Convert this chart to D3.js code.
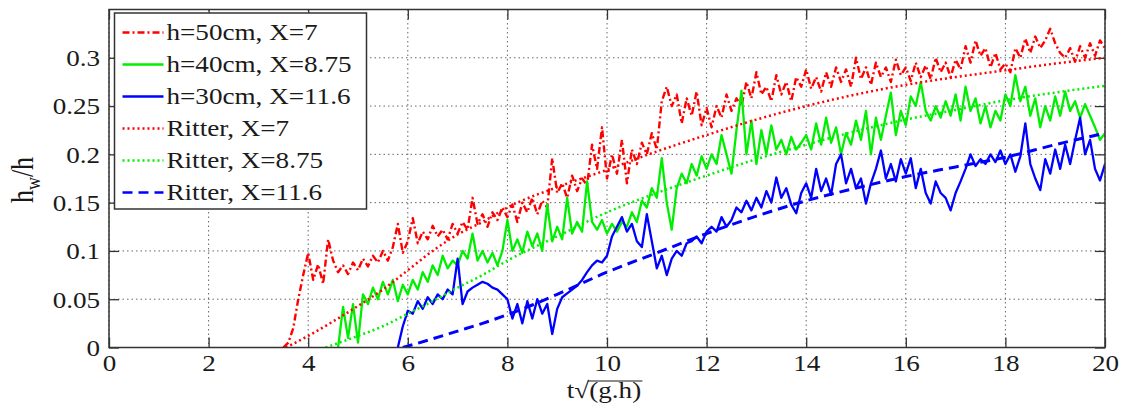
<!DOCTYPE html>
<meta charset="utf-8">
<script src="https://cdn.jsdelivr.net/npm/d3@7"></script>
<style>
  body { margin: 0; background: #fff; }
</style>
<div id="chart"></div>
<script>
// measured water depth at the gauge, h_w/h, sampled every 0.1 of t*sqrt(g.h)
var step = 0.1;

var h50Start = 3.5;
var h50 = [0, 0.005, 0.02, 0.05, 0.075, 0.098, 0.07, 0.086, 0.066, 0.112,
  0.09, 0.078, 0.085, 0.076, 0.088, 0.08, 0.092, 0.084, 0.095, 0.088,
  0.1, 0.09, 0.104, 0.128, 0.098, 0.11, 0.134, 0.108, 0.12, 0.112,
  0.126, 0.115, 0.122, 0.112, 0.128, 0.118, 0.13, 0.122, 0.155, 0.128,
  0.138, 0.125, 0.14, 0.132, 0.145, 0.135, 0.148, 0.13, 0.15, 0.14,
  0.155, 0.138, 0.152, 0.145, 0.196, 0.16, 0.17, 0.155, 0.178, 0.162,
  0.175, 0.168, 0.21, 0.185, 0.228, 0.175, 0.2, 0.18, 0.215, 0.17,
  0.205, 0.19, 0.212, 0.2, 0.222, 0.205, 0.255, 0.27, 0.25, 0.262,
  0.232, 0.258, 0.24, 0.265, 0.23, 0.248, 0.228, 0.25, 0.238, 0.262,
  0.245, 0.258, 0.25, 0.275, 0.258, 0.285, 0.262, 0.27, 0.255, 0.282,
  0.262, 0.275, 0.255, 0.28, 0.27, 0.288, 0.268, 0.28, 0.265, 0.285,
  0.27, 0.29, 0.275, 0.288, 0.27, 0.3, 0.278, 0.29, 0.272, 0.295,
  0.28, 0.29, 0.275, 0.298, 0.282, 0.29, 0.276, 0.295, 0.28, 0.292,
  0.278, 0.3, 0.285, 0.295, 0.28, 0.298, 0.288, 0.312, 0.295, 0.318,
  0.302, 0.31, 0.29, 0.305, 0.288, 0.294, 0.285, 0.31, 0.3, 0.32,
  0.305, 0.322, 0.31, 0.318, 0.33, 0.315, 0.305, 0.3, 0.31, 0.296,
  0.312, 0.3, 0.315, 0.302, 0.318, 0.31];

var h40Start = 4.6;
var h40 = [0, 0.042, 0.01, 0.045, 0.005, 0.055, 0.045, 0.062, 0.05, 0.068,
  0.055, 0.07, 0.048, 0.065, 0.055, 0.07, 0.06, 0.078, 0.068, 0.085,
  0.075, 0.095, 0.082, 0.09, 0.085, 0.1, 0.092, 0.118, 0.09, 0.1,
  0.088, 0.098, 0.085, 0.1, 0.132, 0.1, 0.112, 0.098, 0.12, 0.105,
  0.118, 0.1, 0.148, 0.11, 0.125, 0.112, 0.155, 0.118, 0.13, 0.12,
  0.172, 0.13, 0.122, 0.132, 0.118, 0.128, 0.12, 0.13, 0.125, 0.14,
  0.13, 0.152, 0.145, 0.165, 0.155, 0.196, 0.15, 0.122, 0.165, 0.18,
  0.17, 0.19, 0.178, 0.198, 0.185, 0.2, 0.19, 0.22, 0.2, 0.18,
  0.225, 0.266, 0.2, 0.235, 0.19, 0.225, 0.2, 0.23, 0.205, 0.215,
  0.2, 0.218, 0.205, 0.212, 0.22, 0.205, 0.232, 0.21, 0.238, 0.212,
  0.228, 0.2, 0.222, 0.21, 0.235, 0.215, 0.245, 0.2, 0.238, 0.215,
  0.24, 0.264, 0.22, 0.245, 0.23, 0.26, 0.25, 0.275, 0.245, 0.235,
  0.25, 0.238, 0.255, 0.24, 0.262, 0.235, 0.27, 0.245, 0.258, 0.232,
  0.25, 0.228, 0.245, 0.235, 0.262, 0.25, 0.282, 0.255, 0.27, 0.24,
  0.258, 0.228, 0.25, 0.235, 0.26, 0.24, 0.265, 0.245, 0.255, 0.238,
  0.252, 0.24, 0.228, 0.215, 0.222];

var h30Start = 5.8;
var h30 = [0, 0.022, 0.038, 0.035, 0.048, 0.04, 0.052, 0.045, 0.055, 0.05,
  0.06, 0.055, 0.092, 0.045, 0.058, 0.062, 0.065, 0.068, 0.066, 0.062,
  0.06, 0.055, 0.05, 0.03, 0.045, 0.025, 0.048, 0.03, 0.05, 0.035,
  0.045, 0.014, 0.04, 0.052, 0.056, 0.06, 0.064, 0.07, 0.078, 0.085,
  0.09, 0.088, 0.095, 0.115, 0.125, 0.135, 0.12, 0.128, 0.11, 0.104,
  0.138, 0.11, 0.082, 0.095, 0.075, 0.092, 0.1, 0.095, 0.108, 0.11,
  0.115, 0.108, 0.12, 0.125, 0.12, 0.135, 0.125, 0.132, 0.145, 0.14,
  0.152, 0.142, 0.155, 0.145, 0.162, 0.15, 0.176, 0.155, 0.165, 0.148,
  0.139, 0.16, 0.17, 0.155, 0.185, 0.162, 0.175, 0.158, 0.19, 0.2,
  0.17, 0.185, 0.165, 0.175, 0.149, 0.17, 0.185, 0.204, 0.175, 0.19,
  0.172, 0.195, 0.18, 0.196, 0.165, 0.185, 0.16, 0.149, 0.172, 0.16,
  0.155, 0.142, 0.16, 0.172, 0.185, 0.2, 0.188, 0.195, 0.19, 0.2,
  0.192, 0.204, 0.19, 0.2, 0.182, 0.198, 0.232, 0.19, 0.175, 0.163,
  0.195, 0.18, 0.205, 0.185, 0.21, 0.19, 0.215, 0.238, 0.2, 0.215,
  0.185, 0.173, 0.19];

// Ritter curves: [t*sqrt(g.h), h_w/h]
var ritter7 = [[3.55, 0], [4, 0.012], [4.5, 0.027], [5, 0.043], [5.5, 0.06],
  [6, 0.08], [6.5, 0.1], [7, 0.117], [7.5, 0.13], [8, 0.145], [9, 0.166],
  [10, 0.184], [11, 0.203], [12, 0.22], [13, 0.236], [14, 0.25], [15, 0.262],
  [16, 0.272], [17, 0.28], [18, 0.287], [19, 0.294], [20, 0.3]];
var ritter875 = [[4.35, 0], [5, 0.012], [5.5, 0.022], [6, 0.035], [6.5, 0.048],
  [7, 0.062], [7.5, 0.075], [8, 0.09], [9, 0.115], [10, 0.14], [11, 0.16],
  [12, 0.178], [13, 0.195], [14, 0.21], [15, 0.224], [16, 0.236], [17, 0.246],
  [18, 0.256], [19, 0.264], [20, 0.271]];
var ritter116 = [[5.9, 0], [6.5, 0.009], [7, 0.017], [7.5, 0.025], [8, 0.034],
  [8.5, 0.044], [9, 0.055], [10, 0.078], [11, 0.098], [12, 0.118], [13, 0.136],
  [14, 0.152], [15, 0.165], [16, 0.177], [17, 0.187], [18, 0.197], [19, 0.21],
  [20, 0.222]];

var xTicks = [0, 2, 4, 6, 8, 10, 12, 14, 16, 18, 20];
var yTicks = [0, 0.05, 0.1, 0.15, 0.2, 0.25, 0.3];
var yTickLabels = ["0", "0.05", "0.1", "0.15", "0.2", "0.25", "0.3"];
var legendLabels = ["h=50cm, X=7", "h=40cm, X=8.75", "h=30cm, X=11.6",
  "Ritter, X=7", "Ritter, X=8.75", "Ritter, X=11.6"];

var toPoints = function(start, vals) {
  return vals.map(function(v, i) { return [start + i * step, v]; });
};

var margin = {top: 9.5, right: 19, bottom: 59.5, left: 109},
    width = 1124 - margin.left - margin.right,
    height = 407 - margin.top - margin.bottom;

var font = "'Liberation Serif', 'Times New Roman', serif";
var fs = 23;
var sx = 1.18; // the original figure is a bit stretched sideways
var ink = "#333";
var txt = "#1a1a1a";

var svg = d3.select("#chart").append("svg")
    .attr("width", 1124)
    .attr("height", 407)
  .append("g")
    .attr("transform", "translate(" + margin.left + "," + margin.top + ")");

var x = d3.scaleLinear().domain([0, 20]).range([0, width]);
var y = d3.scaleLinear().domain([0, 0.35]).range([height, 0]);

// dotted grid
svg.append("g").selectAll("line").data(xTicks).enter().append("line")
    .attr("x1", function(d) { return x(d); }).attr("x2", function(d) { return x(d); })
    .attr("y1", 0).attr("y2", height)
    .attr("stroke", "#666").attr("stroke-width", 1).attr("stroke-dasharray", "1.5,3");
svg.append("g").selectAll("line").data(yTicks).enter().append("line")
    .attr("y1", function(d) { return y(d); }).attr("y2", function(d) { return y(d); })
    .attr("x1", 0).attr("x2", width)
    .attr("stroke", "#666").attr("stroke-width", 1).attr("stroke-dasharray", "1.5,3");

// axes with inward ticks on all four sides
svg.append("g").attr("transform", "translate(0," + height + ")")
    .call(d3.axisBottom(x).tickValues(xTicks).tickSize(-10).tickSizeOuter(0).tickPadding(7.5));
svg.append("g")
    .call(d3.axisTop(x).tickValues(xTicks).tickSize(-10).tickSizeOuter(0).tickFormat(""));
var gy = svg.append("g")
    .call(d3.axisLeft(y).tickValues(yTicks).tickSize(-10).tickSizeOuter(0).tickPadding(7.5)
      .tickFormat(function(d, i) { return yTickLabels[i]; }));
svg.append("g").attr("transform", "translate(" + width + ",0)")
    .call(d3.axisRight(y).tickValues(yTicks).tickSize(-10).tickSizeOuter(0).tickFormat(""));

svg.selectAll(".domain").remove();
svg.selectAll(".tick line").attr("stroke", ink).attr("stroke-width", 1.3);
svg.selectAll(".tick text")
    .attr("font-family", font).attr("font-size", fs).attr("fill", txt)
    .attr("transform", "scale(" + sx + ",1)");
gy.selectAll(".tick text").attr("dy", "0.34em");

// plot lines
var line = d3.line()
    .x(function(d) { return x(d[0]); })
    .y(function(d) { return y(d[1]); });
var smooth = d3.line().curve(d3.curveMonotoneX)
    .x(function(d) { return x(d[0]); })
    .y(function(d) { return y(d[1]); });

svg.append("clipPath").attr("id", "clip").append("rect")
    .attr("width", width).attr("height", height);
var plot = svg.append("g").attr("clip-path", "url(#clip)");

var styles = [
  {color: "#ff0000", width: 2.4, dash: "7,3,2,3"},
  {color: "#00ee00", width: 2.3, dash: null},
  {color: "#0000ff", width: 2.3, dash: null},
  {color: "#ff0000", width: 2.5, dash: "2,3"},
  {color: "#00ee00", width: 2.5, dash: "2,3"},
  {color: "#0000ff", width: 3, dash: "10,6"}
];
var series = [
  {pts: toPoints(h50Start, h50), gen: line},
  {pts: toPoints(h40Start, h40), gen: line},
  {pts: toPoints(h30Start, h30), gen: line},
  {pts: ritter7, gen: smooth},
  {pts: ritter875, gen: smooth},
  {pts: ritter116, gen: smooth}
];
series.forEach(function(s, i) {
  plot.append("path")
      .attr("d", s.gen(s.pts))
      .attr("fill", "none")
      .attr("stroke", styles[i].color)
      .attr("stroke-width", styles[i].width)
      .attr("stroke-dasharray", styles[i].dash)
      .attr("stroke-linejoin", "round");
});

// frame
svg.append("rect").attr("width", width).attr("height", height)
    .attr("fill", "none").attr("stroke", ink).attr("stroke-width", 1.5);

// legend
var legend = svg.append("g").attr("transform", "translate(5.5,3.5)");
legend.append("rect").attr("width", 252).attr("height", 196)
    .attr("fill", "#fff").attr("stroke", ink).attr("stroke-width", 1.5);
legendLabels.forEach(function(lab, i) {
  var row = legend.append("g").attr("transform", "translate(0," + (27 + i * 32) + ")");
  row.append("line").attr("x1", 8).attr("x2", 49).attr("y1", -7.5).attr("y2", -7.5)
      .attr("stroke", styles[i].color).attr("stroke-width", Math.min(styles[i].width, 2.5))
      .attr("stroke-dasharray", styles[i].dash);
  row.append("text").attr("x", 52 / sx).attr("transform", "scale(" + sx + ",1)")
      .attr("font-family", font).attr("font-size", fs).attr("fill", txt)
      .text(lab);
});

// x axis title, with the radical bar drawn over (g.h)
var xg = svg.append("g")
    .attr("transform", "translate(" + (width / 2 - 3) + "," + (height + 50) + ") scale(" + sx + ",1)");
var xt = xg.append("text")
    .attr("text-anchor", "middle")
    .attr("font-family", font).attr("font-size", fs).attr("fill", txt)
    .text("t\u221a(g.h)");
var n = xt.node();
var bx0 = n.getStartPositionOfChar(2).x,
    bx1 = n.getEndPositionOfChar(6).x;
xg.append("line").attr("x1", bx0 - 1).attr("x2", bx1 + 1)
    .attr("y1", -16.5).attr("y2", -16.5)
    .attr("stroke", txt).attr("stroke-width", 1.2);

// y axis title
var yt = svg.append("text")
    .attr("transform", "translate(" + (33 - margin.left) + "," + (height / 2 + 1.5) + ") scale(" + sx + ",1) rotate(-90)")
    .attr("text-anchor", "middle")
    .attr("font-family", font).attr("font-size", 26).attr("fill", txt);
yt.append("tspan").text("h");
yt.append("tspan").attr("font-size", 18).attr("dy", 6).text("w");
yt.append("tspan").attr("dy", -6).text("/h");
</script>
